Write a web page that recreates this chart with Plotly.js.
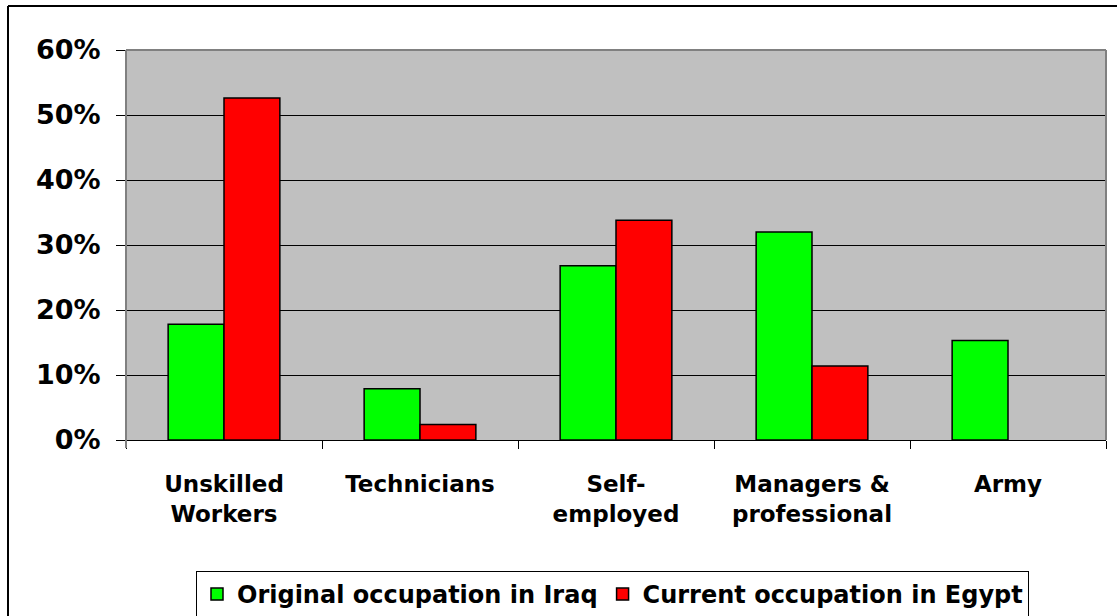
<!DOCTYPE html>
<html><head><meta charset="utf-8">
<script src="https://cdn.plot.ly/plotly-3.0.1.min.js"></script>
<style>html,body{margin:0;padding:0;background:#fff;}#chart{width:1118px;height:616px;}</style>
</head><body><div id="chart"></div>
<script>
const categories = ["Unskilled<br>Workers", "Technicians", "Self-<br>employed", "Managers &<br>professional", "Army"];
const originalIraq = [0.178, 0.079, 0.268, 0.320, 0.153];
const currentEgypt = [0.526, 0.024, 0.338, 0.114, 0];
const seriesNames = ["Original occupation in Iraq", "Current occupation in Egypt"];
const yTicks = [0, 0.1, 0.2, 0.3, 0.4, 0.5, 0.6];

const W = 1118, H = 616, L = 126, R = 12, T = 50, B = 176;
const pw = W - L - R, ph = H - T - B;
const px = v => (v - L) / pw;
const py = v => (H - B - v) / ph;
const outline = vals => vals.map(v => v > 0 ? 1.5 : 0);

const traces = [
  {type: 'bar', x: categories, y: originalIraq, name: seriesNames[0],
   marker: {color: '#00ff00', line: {color: '#000', width: outline(originalIraq)}}},
  {type: 'bar', x: categories, y: currentEgypt, name: seriesNames[1],
   marker: {color: '#ff0000', line: {color: '#000', width: outline(currentEgypt)}}}
];

const layout = {
  width: W, height: H,
  margin: {l: L, r: R, t: T, b: B, pad: 0, autoexpand: false},
  paper_bgcolor: '#ffffff', plot_bgcolor: '#c0c0c0',
  barmode: 'group', bargap: 0.43, bargroupgap: 0,
  showlegend: true,
  legend: {orientation: 'h', x: px(196), y: py(571), xanchor: 'left', yanchor: 'top',
           bordercolor: '#000', borderwidth: 1, bgcolor: '#fff',
           font: {family: 'DejaVu Sans, Verdana, sans-serif', size: 24, color: '#000', weight: 'bold'},
           itemwidth: 30, tracegroupgap: 0},
  xaxis: {type: 'category', tickson: 'boundaries', ticks: 'outside', ticklen: 8, tickcolor: '#000',
          showline: true, linecolor: '#000', linewidth: 1, showgrid: false, zeroline: false,
          tickfont: {family: 'DejaVu Sans, Verdana, sans-serif', size: 23, color: '#000', weight: 'bold'},
          ticklabelstandoff: 23, fixedrange: true},
  yaxis: {range: [0, 0.6], tickvals: yTicks, tickformat: '.0%', ticks: 'outside', ticklen: 9,
          tickcolor: '#000', showgrid: true, gridcolor: '#000', gridwidth: 1, zeroline: false,
          showline: false,
          tickfont: {family: 'DejaVu Sans, Verdana, sans-serif', size: 27, color: '#000', weight: 'bold'},
          ticklabelstandoff: 10, fixedrange: true},
  shapes: [
    {type: 'line', xref: 'paper', yref: 'paper', x0: 0, x1: 0, y0: py(448), y1: 1, line: {color: '#808080', width: 2}},
    {type: 'line', xref: 'paper', yref: 'paper', x0: 0, x1: 1, y0: 1, y1: 1, line: {color: '#808080', width: 2}},
    {type: 'line', xref: 'paper', yref: 'paper', x0: 1, x1: 1, y0: 0, y1: 1, line: {color: '#808080', width: 2}},
    {type: 'line', xref: 'paper', yref: 'paper', x0: px(8), x1: px(1117), y0: py(6), y1: py(6), line: {color: '#000', width: 2}},
    {type: 'line', xref: 'paper', yref: 'paper', x0: px(8), x1: px(8), y0: py(6), y1: py(616), line: {color: '#000', width: 2}}
  ]
};

Plotly.newPlot('chart', traces, layout, {displayModeBar: false, staticPlot: true});
</script></body></html>
